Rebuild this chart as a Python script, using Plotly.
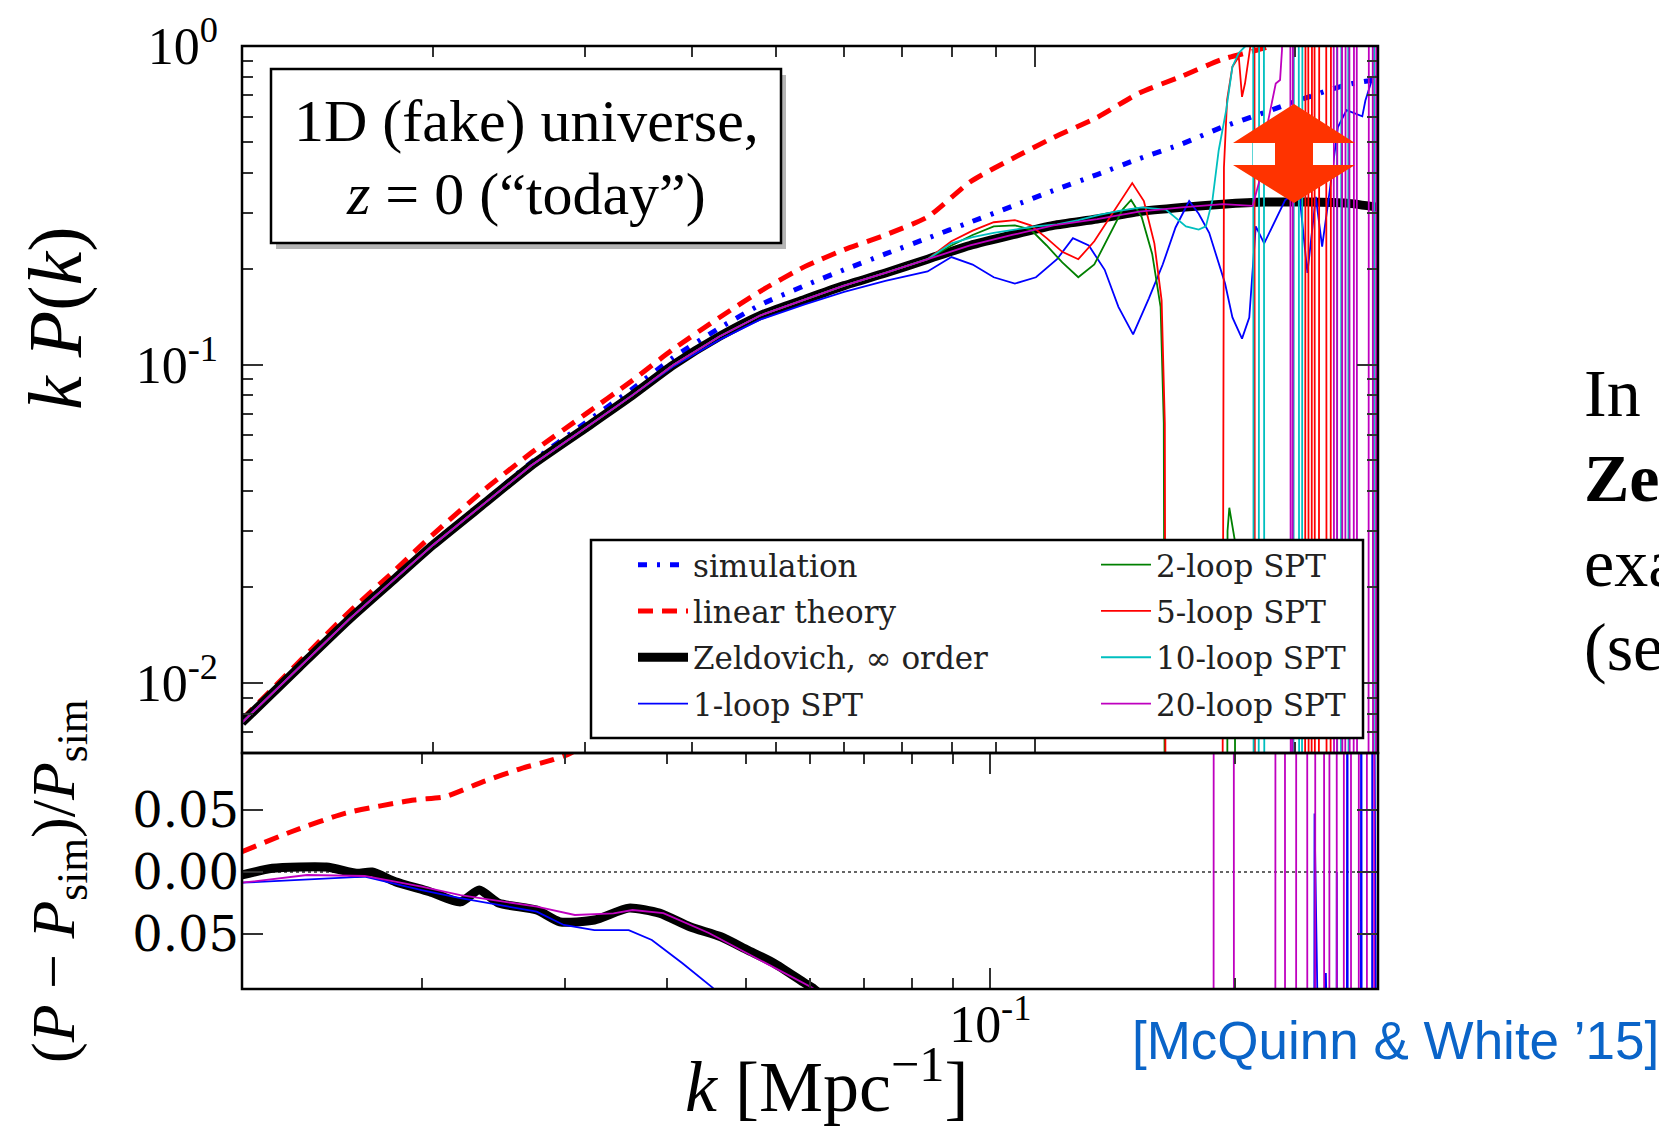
import plotly.graph_objects as go

# ---------------- data: top panel, k P(k) ----------------
K_GRID = [0.012, 0.014, 0.016, 0.018, 0.02, 0.023, 0.026, 0.03, 0.034, 0.038, 0.043, 0.048,
          0.054, 0.06, 0.067, 0.075, 0.084, 0.094, 0.105, 0.118, 0.132, 0.148, 0.165, 0.185,
          0.207, 0.23, 0.25]
SIM_KP = [0.00751, 0.01125, 0.01589, 0.02125, 0.02734, 0.0374, 0.04929, 0.0654, 0.0835, 0.1051,
          0.1302, 0.1541, 0.1769, 0.1983, 0.2224, 0.2493, 0.2797, 0.3137, 0.3519, 0.3948, 0.4428,
          0.4928, 0.5567, 0.6197, 0.6898, 0.7561, 0.7855]
LIN_KP = [0.00768, 0.0117, 0.01676, 0.02241, 0.02929, 0.0407, 0.0528, 0.0696, 0.0888, 0.1117,
          0.1405, 0.1701, 0.2029, 0.2293, 0.2551, 0.2906, 0.3741, 0.4428, 0.5160, 0.5965, 0.7113,
          0.8039, 0.9087, 0.9883, 1.12, 1.25, 1.35]
ZEL_KP = [0.00751, 0.01125, 0.01589, 0.02108, 0.02713, 0.03685, 0.04816, 0.06295, 0.0797, 0.0996,
          0.1225, 0.1427, 0.1601, 0.1769, 0.1938, 0.2141, 0.2364, 0.2551, 0.2734, 0.2862, 0.302,
          0.3114, 0.3186, 0.3236, 0.3236, 0.3211, 0.3114]

LOW_K = [0.012, 0.014, 0.016, 0.018, 0.02, 0.023, 0.026, 0.03, 0.034, 0.038, 0.043, 0.048,
         0.054, 0.06, 0.067, 0.075]
SPT_LOW_KP = [0.00751, 0.01125, 0.01589, 0.02108, 0.02713, 0.03685, 0.04816, 0.06295, 0.0797,
              0.0996, 0.1225, 0.1427, 0.1601, 0.1769, 0.1938, 0.2141]
ONE_LOOP_LOW_KP = [0.00751, 0.01125, 0.01589, 0.02108, 0.02713, 0.03685, 0.04816, 0.06295, 0.0797,
                   0.0985, 0.1195, 0.1385, 0.1545, 0.169, 0.183, 0.196]

ONE_LOOP_HI_K = [0.07993, 0.08459, 0.0895, 0.09471, 0.1002, 0.1060, 0.1106, 0.1154, 0.1204, 0.1249,
                 0.1299, 0.1355, 0.1406, 0.1455, 0.1509, 0.1548, 0.1592, 0.1619, 0.1661, 0.1694,
                 0.1738, 0.1772, 0.1803, 0.1844, 0.1951, 0.2024, 0.2070, 0.2117, 0.2153, 0.2190,
                 0.2246, 0.2298, 0.2397, 0.2417, 0.2458, 0.2501]
ONE_LOOP_HI_KP = [0.2174, 0.2060, 0.1879, 0.1795, 0.1879, 0.2141, 0.2493, 0.2364, 0.1983, 0.1517,
                  0.1243, 0.1613, 0.2060, 0.2693, 0.3261, 0.2974, 0.2591, 0.2241, 0.1795, 0.1405,
                  0.1206, 0.1405, 0.2714, 0.2401, 0.3286, 0.3519, 0.1938, 0.3362, 0.2346, 0.3286,
                  0.5568, 0.6293, 0.6012, 0.6742, 0.7795, 0.8165]

TWO_LOOP_HI_K = [0.07993, 0.08459, 0.0895, 0.09471, 0.09881, 0.1031, 0.1075, 0.1122, 0.1171, 0.1221,
                 0.1263, 0.1292, 0.1329, 0.1367, 0.1398, 0.1410, 0.1418, 0.1669, 0.1672, 0.1680,
                 0.1705, 0.1708, 0.25]
TWO_LOOP_HI_KP = [0.2364, 0.2551, 0.2714, 0.2734, 0.2652, 0.2364, 0.2091, 0.1879, 0.2060, 0.2551,
                  0.3066, 0.3286, 0.2906, 0.2224, 0.1517, 0.0654, 1e-4, 1e-4, 0.03, 0.0355,
                  0.028, 1e-4, 1e-4]

FIVE_LOOP_HI_K = [0.07993, 0.08459, 0.0895, 0.09471, 0.09881, 0.1031, 0.1075, 0.1122, 0.1171, 0.1221,
                  0.1256, 0.1296, 0.1337, 0.1375, 0.1402, 0.1414, 0.1420, 0.1645, 0.1656, 0.1670,
                  0.1694, 0.1723, 0.1738, 0.1752, 0.1777, 0.1785, 0.1796, 0.1800, 0.2056, 0.2060,
                  0.2074, 0.2078, 0.2092, 0.2096, 0.2109, 0.2113, 0.2133, 0.2137, 0.2176, 0.2180,
                  0.2201, 0.2205, 0.25]
FIVE_LOOP_HI_KP = [0.2438, 0.2631, 0.2797, 0.2840, 0.2734, 0.2493, 0.2258, 0.2141, 0.2438, 0.2906,
                   0.3261, 0.3713, 0.3261, 0.2401, 0.1588, 0.0654, 1e-4, 1e-4, 0.4152, 0.677,
                   0.861, 0.925, 0.6925, 0.7638, 0.996, 10, 10, 1e-4, 1e-4, 10,
                   10, 1e-4, 1e-4, 10, 10, 1e-4, 1e-4, 10, 10, 1e-4,
                   1e-4, 10, 10]

TEN_LOOP_HI_K = [0.07993, 0.08459, 0.0895, 0.09471, 0.1002, 0.1060, 0.1122, 0.1187, 0.1256, 0.1329,
                 0.1418, 0.1496, 0.1548, 0.1578, 0.1606, 0.1633, 0.1666, 0.1694, 0.1723, 0.1752,
                 0.1762, 0.1790, 0.1794, 0.1816, 0.1820, 0.1842, 0.1846, 0.1993, 0.1997, 0.2022,
                 0.2026, 0.2039, 0.2043, 0.2239, 0.2243, 0.2263, 0.2267, 0.2308, 0.2312, 0.2471,
                 0.2475, 0.25]
TEN_LOOP_HI_KP = [0.2401, 0.2513, 0.2591, 0.2652, 0.2714, 0.2755, 0.2840, 0.2952, 0.3043, 0.3114,
                  0.3066, 0.2714, 0.2652, 0.2714, 0.3286, 0.4707, 0.6293, 0.861, 0.9512, 0.996,
                  10, 10, 1e-4, 1e-4, 10, 10, 1e-4, 1e-4, 10, 10,
                  1e-4, 1e-4, 10, 10, 1e-4, 1e-4, 10, 10, 1e-4, 1e-4,
                  10, 10]

TWENTY_LOOP_HI_K = [0.084, 0.094, 0.105, 0.118, 0.132, 0.148, 0.165, 0.1788, 0.1818, 0.1851,
                    0.1886, 0.1902, 0.1924, 0.1934, 0.1942, 0.1977, 0.1981, 0.1988, 0.1992, 0.2220,
                    0.2224, 0.2239, 0.2243, 0.2270, 0.2274, 0.2289, 0.2293, 0.2315, 0.2319, 0.2341,
                    0.2345, 0.2361, 0.2365, 0.2436, 0.2440, 0.2464, 0.2468, 0.2485, 0.2489, 0.25]
TWENTY_LOOP_HI_KP = [0.2364, 0.2551, 0.2734, 0.2862, 0.302, 0.3114, 0.3186, 0.315, 0.3713, 0.5319,
                     0.677, 0.7621, 0.7821, 0.9734, 10, 10, 1e-4, 1e-4, 10, 10,
                     1e-4, 1e-4, 10, 10, 1e-4, 1e-4, 10, 10, 1e-4, 1e-4,
                     10, 10, 1e-4, 1e-4, 10, 10, 1e-4, 1e-4, 10, 10]

# ---------------- data: bottom panel, (P - P_sim)/P_sim ----------------
ZEL_RES_K = [0.012, 0.01308, 0.01524, 0.0166, 0.01735, 0.01853, 0.02042, 0.02228, 0.0235, 0.02484,
             0.02766, 0.02953, 0.03257, 0.0359, 0.03917, 0.04269, 0.04661, 0.05025, 0.05422,
             0.05916, 0.06046, 0.07, 0.3]
ZEL_RES = [-0.0024, 0.003, 0.004, -0.001, 0.0, -0.0078, -0.0158, -0.024, -0.0145, -0.025,
           -0.0305, -0.040, -0.0385, -0.029, -0.033, -0.044, -0.052, -0.0626, -0.0733,
           -0.0893, -0.093, -0.13, -0.4]

LIN_RES_K = [0.012, 0.0138, 0.0161, 0.01955, 0.02131, 0.02377, 0.02651, 0.0289, 0.03047, 0.04, 0.1, 0.3]
LIN_RES = [0.0163, 0.0323, 0.0473, 0.0578, 0.0604, 0.0725, 0.0832, 0.0899, 0.0955, 0.15, 0.5, 0.8]

ONE_LOOP_RES_K = [0.012, 0.01699, 0.01996, 0.02228, 0.02766, 0.02987, 0.03257, 0.0359, 0.03833, 0.0418,
                  0.04556, 0.05, 0.2500, 0.2506, 0.2516, 0.2583, 0.2588, 0.2593, 0.2664, 0.2669,
                  0.2674, 0.2745, 0.2750, 0.2755, 0.2856, 0.2861, 0.2866, 0.2948, 0.2953, 0.2958, 0.3]
ONE_LOOP_RES = [-0.0086, -0.0037, -0.0145, -0.021, -0.0318, -0.0425, -0.0466, -0.0466, -0.0546, -0.0733,
                -0.093, -0.13, -0.5, 0.047, -0.5, -0.5, -0.081, -0.5, -0.5, 0.0,
                -0.5, -0.5, 0.5, -0.5, -0.5, 0.5, -0.5, -0.5, 0.5, -0.5, -0.5]

TWENTY_LOOP_RES_K = [0.012, 0.01443, 0.01699, 0.01996, 0.02228, 0.02766, 0.03082, 0.03438, 0.03629,
                     0.0396, 0.04505, 0.05307, 0.06046, 0.07,
                     0.1881, 0.1885, 0.1992, 0.1996, 0.2241, 0.2245, 0.2303, 0.2307, 0.2377, 0.2381,
                     0.2453, 0.2457, 0.2509, 0.2513, 0.2573, 0.2577, 0.2612, 0.2616, 0.2667, 0.2671,
                     0.2721, 0.2725, 0.2777, 0.2781, 0.2839, 0.2843, 0.2905, 0.2909, 0.2965, 0.2969, 0.3]
TWENTY_LOOP_RES = [-0.0086, -0.0024, -0.0032, -0.0118, -0.0185, -0.0278, -0.0345, -0.0332, -0.0305,
                   -0.033, -0.049, -0.0733, -0.093, -0.15,
                   -1, 1, 1, -1, -1, 1, 1, -1, -1, 1,
                   1, -1, -1, 1, 1, -1, -1, 1, 1, -1,
                   -1, 1, 1, -1, -1, 1, 1, -1, -1, 1, 1]

# ---------------- figure ----------------
W, H = 1659, 1130
ML, MR, MT, MB = 242, 281, 46, 141
PW, PH = W - ML - MR, H - MT - MB
SPLIT = (H - MB - 753) / PH  # panel boundary (paper fraction)


def px(X):
    return (X - ML) / PW


def py(Y):
    return (H - MB - Y) / PH


BLUE, RED, GREEN, CYAN, MAG = '#0000ff', '#ff0000', '#008000', '#00bfbf', '#bf00bf'
SERIF = 'Liberation Serif, Times New Roman, serif'
DVS = 'DejaVu Serif, serif'
LEGFONT = dict(family=DVS, size=31, color='#222222')

fig = go.Figure()
top = dict(xaxis='x', yaxis='y', mode='lines')
bot = dict(xaxis='x2', yaxis='y2', mode='lines', showlegend=False)
smooth = dict(shape='spline', smoothing=0.6)

fig.add_trace(go.Scatter(x=K_GRID, y=SIM_KP, name='simulation', legend='legend', legendgroup='a',
                         line=dict(color=BLUE, width=5, dash='9px,10px,3px,10px', **smooth), **top))
fig.add_trace(go.Scatter(x=K_GRID, y=LIN_KP, name='linear theory', legend='legend', legendgroup='b',
                         line=dict(color=RED, width=5, dash='15px,9px', **smooth), **top))
fig.add_trace(go.Scatter(x=K_GRID, y=ZEL_KP, name='Zeldovich, \u221e order', legend='legend', legendgroup='c',
                         line=dict(color='black', width=9, **smooth), **top))
fig.add_trace(go.Scatter(x=LOW_K + ONE_LOOP_HI_K, y=ONE_LOOP_LOW_KP + ONE_LOOP_HI_KP, name='1-loop SPT',
                         legend='legend', legendgroup='d', line=dict(color=BLUE, width=1.8), **top))
fig.add_trace(go.Scatter(x=LOW_K + TWO_LOOP_HI_K, y=SPT_LOW_KP + TWO_LOOP_HI_KP, name='2-loop SPT',
                         legend='legend2', legendgroup='e', line=dict(color=GREEN, width=1.8), **top))
fig.add_trace(go.Scatter(x=LOW_K + FIVE_LOOP_HI_K, y=SPT_LOW_KP + FIVE_LOOP_HI_KP, name='5-loop SPT',
                         legend='legend2', legendgroup='f', line=dict(color=RED, width=1.8), **top))
fig.add_trace(go.Scatter(x=LOW_K + TEN_LOOP_HI_K, y=SPT_LOW_KP + TEN_LOOP_HI_KP, name='10-loop SPT',
                         legend='legend2', legendgroup='g', line=dict(color=CYAN, width=1.8), **top))
fig.add_trace(go.Scatter(x=LOW_K + TWENTY_LOOP_HI_K, y=SPT_LOW_KP + TWENTY_LOOP_HI_KP, name='20-loop SPT',
                         legend='legend2', legendgroup='h', line=dict(color=MAG, width=1.8), **top))

fig.add_trace(go.Scatter(x=LIN_RES_K, y=LIN_RES, line=dict(color=RED, width=5, dash='15px,9px', **smooth), **bot))
fig.add_trace(go.Scatter(x=ZEL_RES_K, y=ZEL_RES, line=dict(color='black', width=9, **smooth), **bot))
fig.add_trace(go.Scatter(x=ONE_LOOP_RES_K, y=ONE_LOOP_RES, line=dict(color=BLUE, width=1.8), **bot))
fig.add_trace(go.Scatter(x=TWENTY_LOOP_RES_K, y=TWENTY_LOOP_RES, line=dict(color=MAG, width=1.8), **bot))

axis_common = dict(showgrid=False, zeroline=False, showline=False,
                   mirror='ticks', ticks='inside', tickcolor='#333333', tickwidth=1.5, ticklen=21)
POWFONT = dict(family=SERIF, size=52, color='black')
DECFONT = dict(family=DVS, size=48, color='black')

X_MINOR = [0.02, 0.03, 0.04, 0.05, 0.06, 0.07, 0.08, 0.09, 0.2]
Y_MINOR = [0.007, 0.008, 0.009, 0.02, 0.03, 0.04, 0.05, 0.06, 0.07, 0.08, 0.09,
           0.2, 0.3, 0.4, 0.5, 0.6, 0.7, 0.8, 0.9]
minor = lambda vals: dict(tickmode='array', tickvals=vals, ticks='inside', ticklen=11,
                          tickcolor='#333333', tickwidth=1.5)

fig.update_layout(
    width=W, height=H, margin=dict(l=ML, r=MR, t=MT, b=MB, autoexpand=False),
    paper_bgcolor='white', plot_bgcolor='white',
    xaxis=dict(type='log', range=[-1.9208, -0.6021], anchor='y', domain=[0, 1],
               tickmode='array', tickvals=[0.1], showticklabels=False, minor=minor(X_MINOR),
               tickfont=POWFONT, **axis_common),
    yaxis=dict(type='log', range=[-2.2198, 0.0], anchor='x', domain=[SPLIT, 1],
               tickmode='array', tickvals=[0.01, 0.1, 1],
               ticktext=['10<sup>-2</sup>', '10<sup>-1</sup>', '10<sup>0</sup>'],
               ticklabelstandoff=23, minor=minor(Y_MINOR), tickfont=POWFONT, **axis_common),
    xaxis2=dict(type='log', range=[-1.9208, -0.5229], anchor='y2', domain=[0, 1],
                tickmode='array', tickvals=[0.1], ticktext=['10<sup>-1</sup>'],
                ticklabelstandoff=0, minor=minor(X_MINOR), tickfont=POWFONT, **axis_common),
    yaxis2=dict(range=[-0.0939, 0.0955], anchor='x2', domain=[0, SPLIT],
                tickmode='array', tickvals=[-0.05, 0.0, 0.05], ticktext=['0.05', '0.00', '0.05'],
                ticklabelstandoff=2, tickfont=DECFONT, **axis_common),
    legend=dict(x=px(633), y=py(538), xanchor='left', yanchor='top', bgcolor='rgba(0,0,0,0)',
                borderwidth=0, font=LEGFONT, itemwidth=50, tracegroupgap=3, itemclick=False,
                itemdoubleclick=False),
    legend2=dict(x=px(1096), y=py(538), xanchor='left', yanchor='top', bgcolor='rgba(0,0,0,0)',
                 borderwidth=0, font=LEGFONT, itemwidth=50, tracegroupgap=3, itemclick=False,
                 itemdoubleclick=False),
)

shapes = [
    # zero reference line in the residual panel
    dict(type='line', xref='x2 domain', x0=0, x1=1, yref='y2', y0=0, y1=0,
         line=dict(color='#333333', width=1.6, dash='dot'), layer='below'),
    # legend frame
    dict(type='rect', xref='paper', yref='paper', x0=px(591), x1=px(1363), y0=py(738), y1=py(540),
         fillcolor='white', line=dict(color='black', width=2.5), layer='above'),
    # text box shadow + frame
    dict(type='rect', xref='paper', yref='paper', x0=px(276), x1=px(786), y0=py(249), y1=py(75),
         fillcolor='rgba(90,90,90,0.45)', line=dict(width=0), layer='above'),
    dict(type='rect', xref='paper', yref='paper', x0=px(271), x1=px(781), y0=py(243), y1=py(69),
         fillcolor='white', line=dict(color='black', width=2.5), layer='above'),
    # double arrow: white halo behind shaft, then the red arrow
    dict(type='rect', xref='paper', yref='paper', x0=px(1253), x1=px(1333), y0=py(165), y1=py(143),
         fillcolor='white', line=dict(width=0), layer='above'),
]
ax = dict(tip_t=px(1294), l=px(1233), r=px(1355), sl=px(1275), sr=px(1313))
yt, yb1, yb2, ybt = py(104), py(143), py(165), py(203)
path = (f"M {ax['tip_t']},{yt} L {ax['r']},{yb1} L {ax['sr']},{yb1} L {ax['sr']},{yb2} "
        f"L {ax['r']},{yb2} L {ax['tip_t']},{ybt} L {ax['l']},{yb2} L {ax['sl']},{yb2} "
        f"L {ax['sl']},{yb1} L {ax['l']},{yb1} Z")
shapes.append(dict(type='path', xref='paper', yref='paper', path=path, fillcolor='#ff3300',
                   line=dict(width=0), layer='above'))
# panel frames (drawn as shapes so the shared edge is a single line)
for xr, yr in (('x domain', 'y domain'), ('x2 domain', 'y2 domain')):
    shapes.append(dict(type='rect', xref=xr, yref=yr, x0=0, x1=1, y0=0, y1=1,
                       fillcolor='rgba(0,0,0,0)', line=dict(color='black', width=2.5), layer='above'))
fig.update_layout(shapes=shapes)

ann = [
    dict(text='1D (fake) universe,', x=px(526), y=py(121), font=dict(family=SERIF, size=60, color='black')),
    dict(text='<i>z</i> = 0 (\u201ctoday\u201d)', x=px(526), y=py(194), font=dict(family=SERIF, size=60, color='black')),
    dict(text='<i>k P</i>(<i>k</i>)', x=px(55), y=py(318), textangle=-90,
         font=dict(family=SERIF, size=76, color='black')),
    dict(text='(<i>P</i> \u2212 <i>P</i><sub>sim</sub>)/<i>P</i><sub>sim</sub>', x=px(57), y=py(881),
         textangle=-90, font=dict(family=SERIF, size=62, color='black')),
    dict(text='<i>k</i> [Mpc<sup>\u22121</sup>]', x=px(827), y=py(1081),
         font=dict(family=SERIF, size=72, color='black')),
    dict(text='[McQuinn & White \u201915]', x=px(1130), y=py(1040), xanchor='left',
         font=dict(family='Liberation Sans, Arial, sans-serif', size=53, color='#0a64c8')),
    dict(text='In', x=px(1582), y=py(393), xanchor='left', font=dict(family=SERIF, size=68, color='black')),
    dict(text='<b>Ze</b>', x=px(1582), y=py(478), xanchor='left', font=dict(family=SERIF, size=68, color='black')),
    dict(text='exa', x=px(1582), y=py(563), xanchor='left', font=dict(family=SERIF, size=68, color='black')),
    dict(text='(se', x=px(1582), y=py(647), xanchor='left', font=dict(family=SERIF, size=68, color='black')),
]
for a in ann:
    a.setdefault('xanchor', 'center')
    a.update(xref='paper', yref='paper', yanchor='middle', showarrow=False)
fig.update_layout(annotations=ann)

fig.write_html('out.html')
